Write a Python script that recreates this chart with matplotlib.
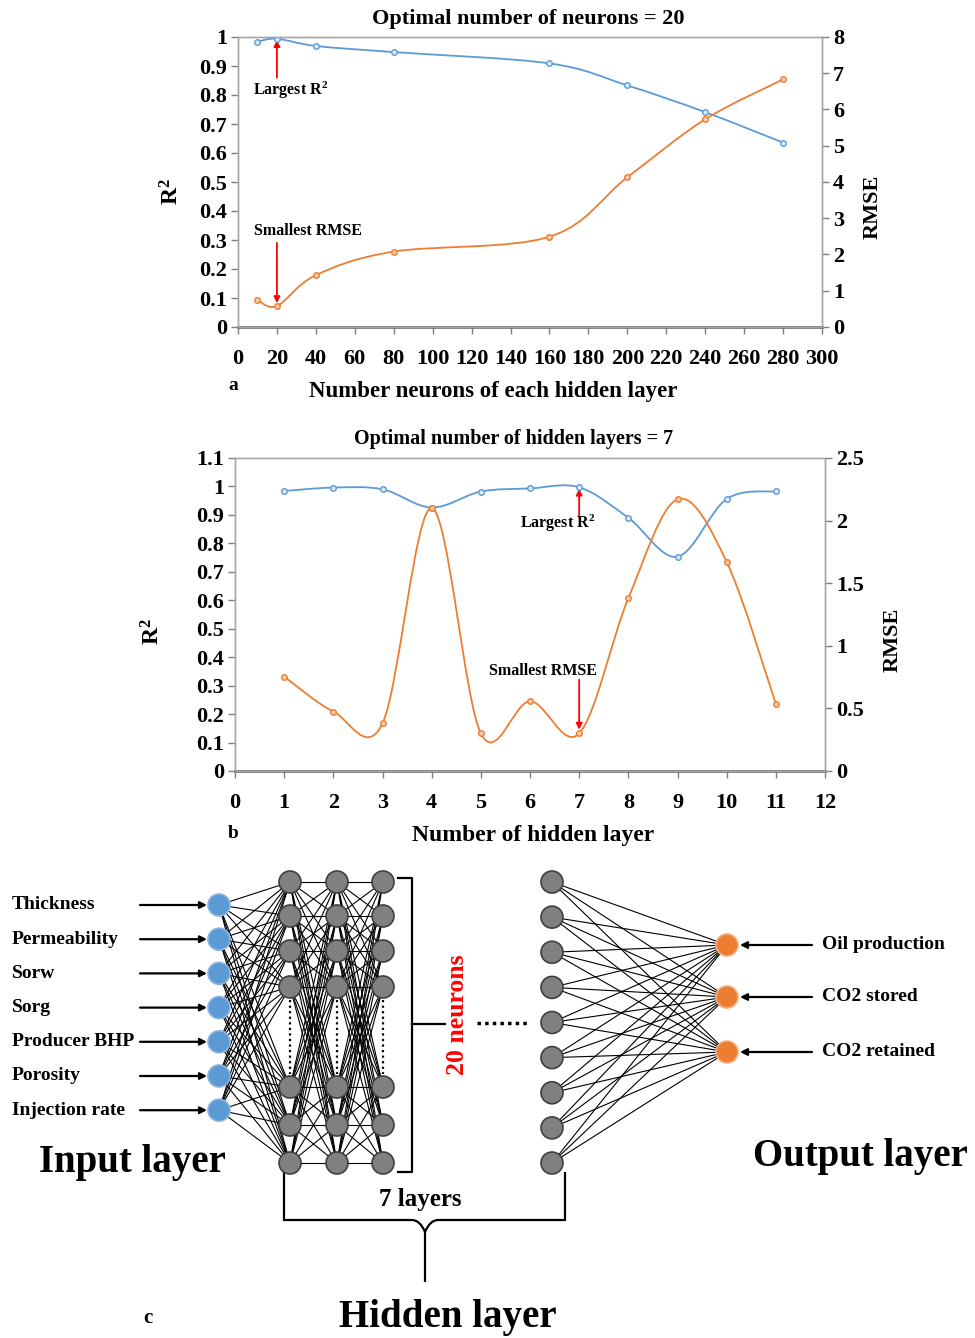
import numpy as np
import matplotlib
matplotlib.use("Agg")
import matplotlib.pyplot as plt
from matplotlib.path import Path
from matplotlib.patches import PathPatch, Circle
from matplotlib.ticker import FuncFormatter

plt.rcParams['font.family'] = ['Liberation Serif', 'DejaVu Serif']
plt.rcParams['font.weight'] = 'bold'
plt.rcParams['mathtext.fontset'] = 'custom'
plt.rcParams['mathtext.rm'] = 'Liberation Serif:bold'
plt.rcParams['mathtext.bf'] = 'Liberation Serif:bold'
plt.rcParams['mathtext.it'] = 'Liberation Serif:bold'

# (a) neurons per hidden layer
neurons = [10, 20, 40, 80, 160, 200, 240, 280]
r2_neurons = [0.984, 0.994, 0.969, 0.948, 0.909, 0.833, 0.741, 0.636]
rmse_neurons = [0.75, 0.58, 1.43, 2.08, 2.49, 4.13, 5.73, 6.83]

# (b) number of hidden layers
layers = [1, 2, 3, 4, 5, 6, 7, 8, 9, 10, 11]
r2_layers = [0.984, 0.996, 0.990, 0.926, 0.982, 0.993, 0.997, 0.890, 0.753, 0.956, 0.983]
rmse_layers = [0.754, 0.475, 0.380, 2.10, 0.30, 0.557, 0.30, 1.38, 2.17, 1.67, 0.536]

# (c) network sketch
input_names = ['Thickness', 'Permeability', 'Sorw', 'Sorg', 'Producer BHP',
               'Porosity', 'Injection rate']
output_names = ['Oil production', 'CO2 stored', 'CO2 retained']

BLUE = '#5B9BD5'
ORANGE = '#ED7D31'
W, H = 975, 1338

fig = plt.figure(figsize=(W / 100, H / 100), dpi=100)


def px(x, y):
    return x / W, 1 - y / H


def rect(x0, y0, x1, y1):
    return [x0 / W, 1 - y1 / H, (x1 - x0) / W, (y1 - y0) / H]


def smooth_path(xs, ys):
    # Bezier spline through the points, like a spreadsheet "smoothed line"
    pts = np.column_stack([xs, ys]).astype(float)
    n = len(pts)
    verts = [pts[0]]
    codes = [Path.MOVETO]
    for i in range(n - 1):
        p0 = pts[max(i - 1, 0)]
        p1 = pts[i]
        p2 = pts[i + 1]
        p3 = pts[min(i + 2, n - 1)]
        verts += [p1 + (p2 - p0) / 6, p2 - (p3 - p1) / 6, p2]
        codes += [Path.CURVE4] * 3
    return Path(verts, codes)


def draw_series(ax, xs, ys, color):
    ax.add_patch(PathPatch(smooth_path(xs, ys), fill=False, edgecolor=color,
                           lw=1.3, zorder=3))
    ax.plot(xs, ys, 'o', ls='none', ms=4, mfc='#DDE9F5' if color == BLUE else '#F8CBAD',
            mec=color, mew=1.0, zorder=4)


fmt = FuncFormatter(lambda v, p: f'{v:g}')


def style_axes(ax, axr):
    for a in (ax, axr):
        for s in a.spines.values():
            s.set_color('#A6A6A6')
            s.set_linewidth(1.0)
        a.tick_params(direction='out', length=5, width=1, color='#7F7F7F',
                      labelsize=16, pad=3)
    ax.spines['bottom'].set_color('#595959')
    ax.spines['bottom'].set_linewidth(1.8)
    ax.tick_params(axis='x', pad=11)
    ax.yaxis.set_major_formatter(fmt)
    axr.yaxis.set_major_formatter(fmt)
    for lab in ax.get_xticklabels() + ax.get_yticklabels() + axr.get_yticklabels():
        lab.set_fontweight('bold')


# ---------------- panel a ----------------
ax1 = fig.add_axes(rect(238, 37, 822, 327))
ax1r = ax1.twinx()
ax1.set_xlim(0, 300)
ax1.set_ylim(0, 1)
ax1r.set_ylim(0, 8)
ax1.set_xticks(range(0, 301, 20))
ax1.set_yticks(np.round(np.arange(0, 1.01, 0.1), 1))
ax1r.set_yticks(range(0, 9))
style_axes(ax1, ax1r)
draw_series(ax1, neurons, r2_neurons, BLUE)
draw_series(ax1r, neurons, rmse_neurons, ORANGE)

ax1.annotate('', xy=(neurons[1], r2_neurons[1]), xytext=(neurons[1], 0.86),
             arrowprops=dict(arrowstyle='-|>', color='red', lw=1.3,
                             mutation_scale=9, shrinkA=0, shrinkB=1))
ax1.text(26.8, 0.817, r'Largest R$^{2}$', ha='center', va='center', fontsize=11.5)
ax1r.annotate('', xy=(neurons[1], rmse_neurons[1] + 0.08), xytext=(neurons[1], 2.32),
              arrowprops=dict(arrowstyle='-|>', color='red', lw=1.3,
                              mutation_scale=9, shrinkA=0, shrinkB=0))
ax1.text(36, 0.331, 'Smallest RMSE', ha='center', va='center', fontsize=11.5)

fig.text(*px(528, 19), 'Optimal number of neurons = 20', ha='center', va='center',
         fontsize=16)
fig.text(*px(493, 391), 'Number neurons of each hidden layer', ha='center',
         va='center', fontsize=16.5)
fig.text(*px(233, 385), 'a', ha='center', va='center', fontsize=14)
fig.text(*px(172, 192), r'R$^{2}$', ha='center', va='center', rotation=90,
         fontsize=17)
fig.text(*px(873, 207), 'RMSE', ha='center', va='center', rotation=90, fontsize=16)

# ---------------- panel b ----------------
ax2 = fig.add_axes(rect(235, 458, 825, 771))
ax2r = ax2.twinx()
ax2.set_xlim(0, 12)
ax2.set_ylim(0, 1.1)
ax2r.set_ylim(0, 2.5)
ax2.set_xticks(range(0, 13))
ax2.set_yticks(np.round(np.arange(0, 1.11, 0.1), 1))
ax2r.set_yticks(np.arange(0, 2.51, 0.5))
style_axes(ax2, ax2r)
draw_series(ax2, layers, r2_layers, BLUE)
draw_series(ax2r, layers, rmse_layers, ORANGE)

ax2.annotate('', xy=(layers[6], r2_layers[6]), xytext=(layers[6], 0.893),
             arrowprops=dict(arrowstyle='-|>', color='red', lw=1.3,
                             mutation_scale=9, shrinkA=0, shrinkB=1))
ax2.text(6.57, 0.872, r'Largest R$^{2}$', ha='center', va='center', fontsize=11.5)
ax2r.annotate('', xy=(layers[6], rmse_layers[6] + 0.03), xytext=(layers[6], 0.73),
              arrowprops=dict(arrowstyle='-|>', color='red', lw=1.3,
                              mutation_scale=9, shrinkA=0, shrinkB=0))
ax2.text(6.26, 0.351, 'Smallest RMSE', ha='center', va='center', fontsize=11.5)

fig.text(*px(514, 439), 'Optimal number of hidden layers = 7', ha='center',
         va='center', fontsize=14.5)
fig.text(*px(533, 835), 'Number of hidden layer', ha='center', va='center',
         fontsize=17)
fig.text(*px(233, 833), 'b', ha='center', va='center', fontsize=14)
fig.text(*px(153, 632), r'R$^{2}$', ha='center', va='center', rotation=90,
         fontsize=17)
fig.text(*px(893, 640), 'RMSE', ha='center', va='center', rotation=90, fontsize=16)

# ---------------- panel c ----------------
ax3 = fig.add_axes(rect(0, 860, W, H))
ax3.set_xlim(0, W)
ax3.set_ylim(H, 860)
ax3.axis('off')

R = 11
in_x = 219
in_y = 905 + 34.2 * np.arange(len(input_names))
hid_x = [290, 337, 383]
hid_y = np.array([882, 916, 951, 987, 1087, 1125, 1163])
last_x = 552
last_y = np.linspace(882, 1163, 9)
out_x = 727
out_y = np.array([945, 997, 1052])


def connect(xa, ya, xb, yb, lw=0.8):
    for y0 in ya:
        for y1 in yb:
            ax3.plot([xa, xb], [y0, y1], color='black', lw=lw, zorder=1)


connect(in_x, in_y, hid_x[0], hid_y)
connect(hid_x[0], hid_y, hid_x[1], hid_y)
connect(hid_x[1], hid_y, hid_x[2], hid_y)
connect(last_x, last_y, out_x, out_y)


def node(x, y, face, edge):
    ax3.add_patch(Circle((x, y), R, facecolor=face, edgecolor=edge, lw=1.2, zorder=3))


for y in in_y:
    node(in_x, y, BLUE, '#8DB4E2')
for x in hid_x:
    for y in hid_y:
        node(x, y, '#808080', '#3F3F3F')
    ax3.plot([x, x], [1000, 1074], color='black', lw=1.6, ls=(0, (1, 1.5)), zorder=2)
for y in last_y:
    node(last_x, y, '#808080', '#3F3F3F')
for y in out_y:
    node(out_x, y, ORANGE, '#F4B183')

for name, y in zip(input_names, in_y):
    ax3.text(12, y, name, ha='left', va='center', fontsize=14)
    ax3.annotate('', xy=(in_x - R - 1, y), xytext=(140, y),
                 arrowprops=dict(arrowstyle='-|>', color='black', lw=1.6,
                                 mutation_scale=10, shrinkA=0, shrinkB=0))
for name, y in zip(output_names, out_y):
    ax3.text(822, y, name, ha='left', va='center', fontsize=14)
    ax3.annotate('', xy=(out_x + R + 2, y), xytext=(812, y),
                 arrowprops=dict(arrowstyle='-|>', color='black', lw=1.6,
                                 mutation_scale=10, shrinkA=0, shrinkB=0))

# right bracket around the hidden columns
ax3.plot([398, 412, 412, 398], [878, 878, 1172, 1172], color='black', lw=1.6)
ax3.plot([412, 445], [1024, 1024], color='black', lw=1.6)
ax3.text(458, 1015, '20 neurons', color='red', rotation=90, ha='center',
         va='center', fontsize=18.5)
ax3.plot([477, 530], [1023, 1023], color='black', lw=2.5, ls=(0, (1, 1.2)))

# bottom brace
brace = Path([(284, 1172), (284, 1220), (284, 1220), (300, 1220),
              (412, 1220), (420, 1220), (425, 1232), (425, 1282),
              (425, 1232), (430, 1220), (438, 1220), (550, 1220),
              (565, 1220), (565, 1220), (565, 1172)],
             [Path.MOVETO, Path.CURVE3, Path.CURVE3, Path.LINETO,
              Path.LINETO, Path.CURVE3, Path.CURVE3, Path.LINETO,
              Path.MOVETO, Path.CURVE3, Path.CURVE3, Path.LINETO,
              Path.CURVE3, Path.CURVE3, Path.LINETO])
ax3.add_patch(PathPatch(brace, fill=False, edgecolor='black', lw=1.6))
ax3.text(420, 1200, '7 layers', ha='center', va='center', fontsize=18)

ax3.text(132, 1163, 'Input layer', ha='center', va='center', fontsize=28)
ax3.text(860, 1157, 'Output layer', ha='center', va='center', fontsize=28)
ax3.text(448, 1318, 'Hidden layer', ha='center', va='center', fontsize=28)
ax3.text(148, 1318, 'c', ha='center', va='center', fontsize=15)

fig.savefig('out.png', dpi=100)
